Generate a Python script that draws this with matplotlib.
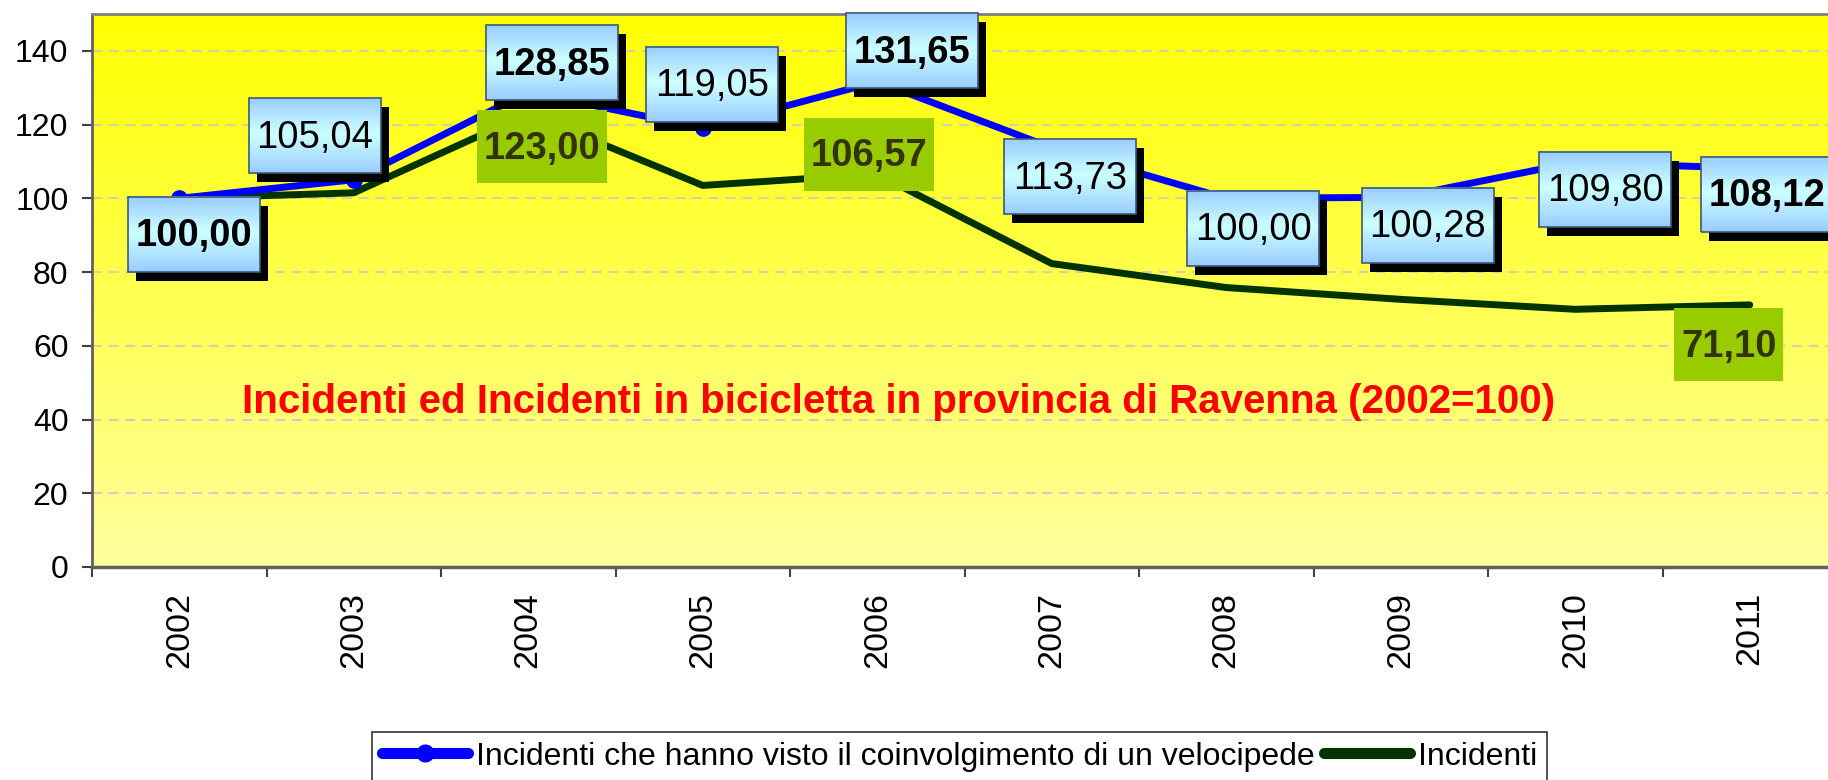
import numpy as np
import matplotlib.pyplot as plt
from matplotlib.patches import Rectangle
from matplotlib.lines import Line2D
from matplotlib.transforms import Affine2D, ScaledTranslation
from matplotlib.ticker import NullFormatter

plt.rcParams['font.family'] = ['Liberation Sans', 'DejaVu Sans']

# data (2002 = 100)
years = ['2002', '2003', '2004', '2005', '2006', '2007', '2008', '2009', '2010', '2011']
bici = [100.00, 105.04, 128.85, 119.05, 131.65, 113.73, 100.00, 100.28, 109.80, 108.12]
incidenti = [100.00, 101.5, 123.00, 103.5, 106.57, 82.3, 75.8, 72.6, 69.9, 71.10]
inc_label_idx = [2, 4, 9]          # years where the Incidenti value is labelled
bici_bold_idx = [0, 2, 4, 9]       # bold labels on the bicycle series

title = 'Incidenti ed Incidenti in bicicletta in provincia di Ravenna (2002=100)'
legend_labels = ['Incidenti che hanno visto il coinvolgimento di un velocipede', 'Incidenti']

# label box placement in pixels (dx right, dy down from the point)
bici_off = [(15, 36), (-39, -44), (24, -29), (9, -44), (35, -31),
            (18, 29), (27, 30), (27, 28), (30, 27), (17, 26)]
inc_off = [(14, 33), (-8, -20), (-21, 40)]
inc_w = [130, 130, 109]

fig = plt.figure(figsize=(18.28, 7.8), dpi=100)
ax = fig.add_axes([92 / 1828, 213 / 780, 1745 / 1828, 553 / 780])

# yellow gradient background
g = np.linspace(0, 1, 256).reshape(-1, 1, 1)
top = np.array([1.0, 1.0, 0.0])
bot = np.array([1.0, 1.0, 0.62])
ax.imshow(top + (bot - top) * g, extent=[0, 1, 0, 1], transform=ax.transAxes,
          aspect='auto', zorder=0)

x = np.arange(len(years))
ax.plot(x, incidenti, color='#003300', lw=5, solid_joinstyle='round',
        solid_capstyle='round', zorder=2)
ax.plot(x, bici, color='#0000FF', lw=5, marker='o', ms=11,
        solid_joinstyle='round', zorder=3)


def lerp(c1, c2, t):
    return tuple(a + (b - a) * t for a, b in zip(c1, c2))


def box(xv, yv, dx, dy, w, h, text, bold, fill, tcolor, shadow):
    tr = Affine2D().translate(dx, -dy) + ScaledTranslation(xv, yv, ax.transData)
    if shadow:
        ax.add_patch(Rectangle((-w / 2 + 8, -h / 2 - 9), w, h, transform=tr,
                               facecolor='black', edgecolor='none', zorder=4, clip_on=False))
    if fill == 'grad':
        c_edge = (0.60, 0.80, 1.0)
        c_mid = (0.80, 1.0, 1.0)
        n = 30
        for i in range(n):
            t = (i + 0.5) / n  # from top
            if t < 0.48:
                c = lerp(c_edge, c_mid, t / 0.48)
            else:
                c = lerp(c_mid, c_edge, (t - 0.48) / 0.52)
            ax.add_patch(Rectangle((-w / 2, h / 2 - (i + 1) * h / n), w, h / n + 0.6,
                                   transform=tr, facecolor=c, edgecolor='none',
                                   zorder=5, clip_on=False))
        ax.add_patch(Rectangle((-w / 2, -h / 2), w, h, transform=tr, facecolor='none',
                               edgecolor='#3C5A78', lw=1.2, zorder=6, clip_on=False))
    else:
        ax.add_patch(Rectangle((-w / 2, -h / 2), w, h, transform=tr, facecolor=fill,
                               edgecolor='none', zorder=5, clip_on=False))
    ax.text(0, -2, text, transform=tr, ha='center', va='center', fontsize=27.5,
            fontweight='bold' if bold else 'normal', color=tcolor, zorder=7, clip_on=False)


def fmt(v):
    return f'{v:.2f}'.replace('.', ',')


for i, v in enumerate(bici):
    dx, dy = bici_off[i]
    box(x[i], v, dx, dy, 132, 75, fmt(v), i in bici_bold_idx, 'grad', 'black', True)

for k, i in enumerate(inc_label_idx):
    dx, dy = inc_off[k]
    box(x[i], incidenti[i], dx, dy, inc_w[k], 73, fmt(incidenti[i]), True,
        '#99CC00', '#333300', False)

ax.text(0.4625, 0.279, title, transform=ax.transAxes, ha='center', va='baseline',
        fontsize=29, fontweight='bold', color='#FF0000', zorder=8)

ax.set_xlim(-0.5, 9.5)
ax.set_ylim(0, 150)
ax.set_yticks(range(0, 141, 20))
ax.set_xticks(np.arange(-0.5, 10, 1))
ax.xaxis.set_major_formatter(NullFormatter())
ax.set_xticks(x, minor=True)
ax.set_xticklabels(years, minor=True, rotation=90, fontsize=24.5)
ax.tick_params(axis='x', which='major', length=7, width=1.5, color='#404040')
ax.tick_params(axis='x', which='minor', length=0, pad=18)
ax.tick_params(axis='y', length=7, width=1.5, color='#404040', labelsize=23, pad=10)

ax.set_axisbelow(True)
ax.yaxis.grid(True, color='#C8C8C8', lw=1.2, linestyle=(0, (6, 4)))
for s in ['top', 'right']:
    ax.spines[s].set_color('#808080')
    ax.spines[s].set_linewidth(2)
ax.spines['left'].set_color('#606060')
ax.spines['left'].set_linewidth(2)
ax.spines['bottom'].set_color('#606060')
ax.spines['bottom'].set_linewidth(2.5)

handles = [Line2D([], [], color='#0000FF', lw=8, marker='o', ms=12, solid_capstyle='round'),
           Line2D([], [], color='#003300', lw=8, solid_capstyle='round')]
leg = fig.legend(handles, legend_labels, loc='upper left',
                 bbox_to_anchor=(372 / 1828, 1 - 732 / 780), ncol=2, frameon=True,
                 fancybox=False, edgecolor='black', fontsize=23, handlelength=2.7,
                 handletextpad=0.25, columnspacing=0.3, borderpad=0.3, borderaxespad=0)
leg.get_frame().set_linewidth(1.2)

fig.savefig('out.png', dpi=100)
